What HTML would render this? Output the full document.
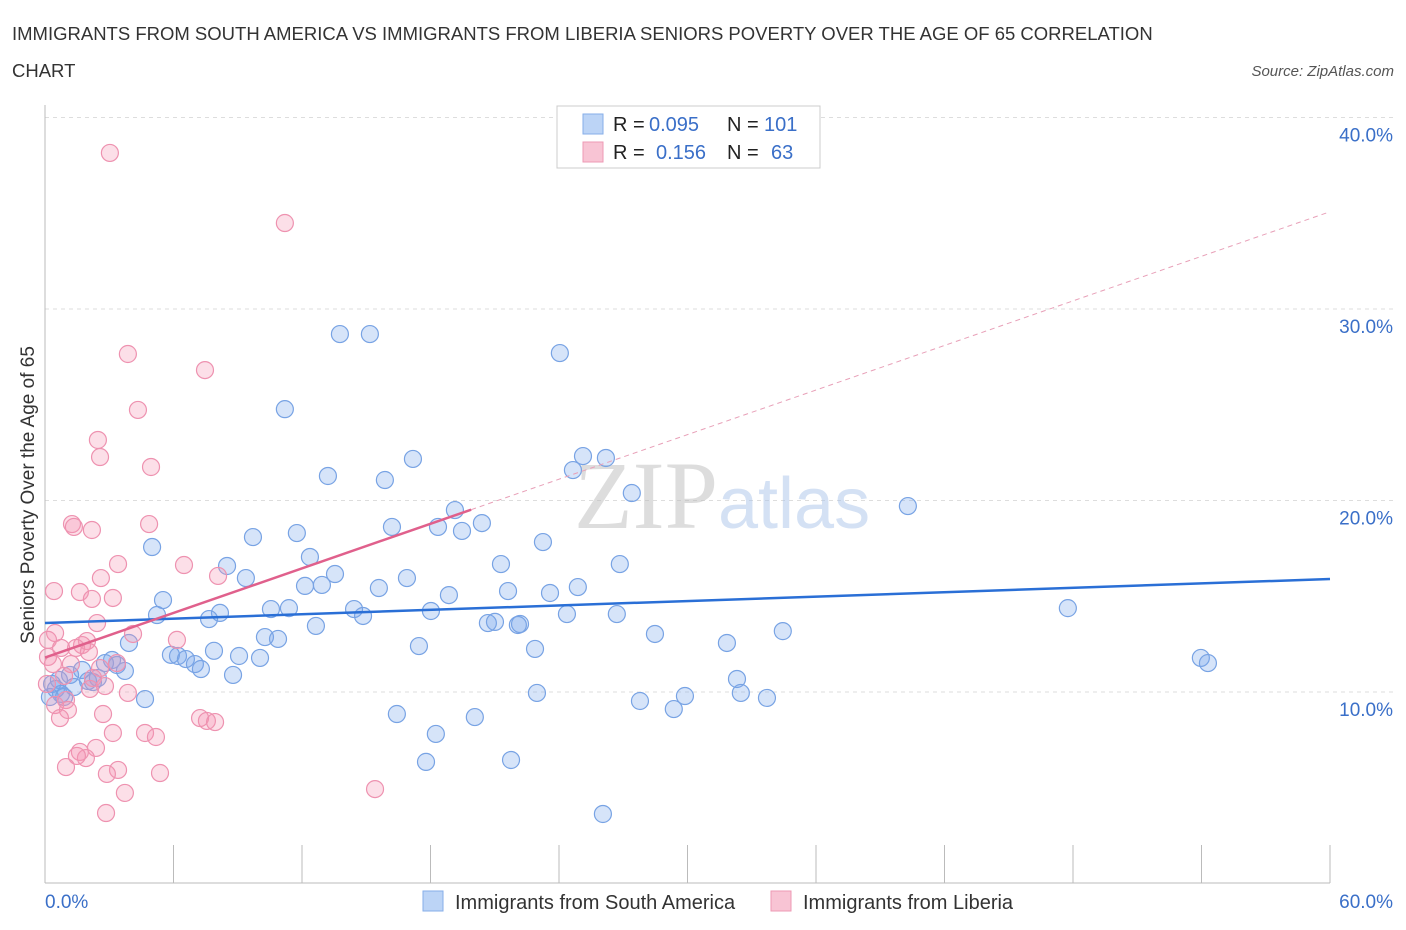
<!DOCTYPE html>
<html><head><meta charset="utf-8"><style>
body{margin:0;background:#fff;font-family:"Liberation Sans",sans-serif;}
svg{display:block}
</style></head><body>
<svg id="chart" width="1406" height="930">
<text x="12" y="40" font-size="18.5" fill="#333">IMMIGRANTS FROM SOUTH AMERICA VS IMMIGRANTS FROM LIBERIA SENIORS POVERTY OVER THE AGE OF 65 CORRELATION</text>
<text x="12" y="77" font-size="18.5" fill="#333">CHART</text>
<text x="1394" y="76" font-size="15" fill="#555" font-style="italic" text-anchor="end">Source: ZipAtlas.com</text>
<text transform="translate(34,495) rotate(-90)" font-size="19" fill="#333" text-anchor="middle">Seniors Poverty Over the Age of 65</text>
<g id="grid"></g>
<text x="718" y="528" font-size="96" fill="#bbb" fill-opacity="0.5" text-anchor="end" font-family="Liberation Serif,serif">ZIP</text>
<text x="718" y="528" font-size="72" fill="#a9c4ea" fill-opacity="0.5">atlas</text>
<g id="marks"></g>
<g>
<rect x="557" y="106" width="263" height="62" fill="#fff" stroke="#ccc"/>
<rect x="583" y="114" width="20" height="20" fill="#bcd4f6" stroke="#86aee8"/>
<rect x="583" y="142" width="20" height="20" fill="#f8c4d4" stroke="#ee9ab4"/>
<text x="613" y="131" font-size="20" fill="#222">R =</text>
<text x="649" y="131" font-size="20" fill="#3a6fc8">0.095</text>
<text x="727" y="131" font-size="20" fill="#222">N =</text>
<text x="764" y="131" font-size="20" fill="#3a6fc8">101</text>
<text x="613" y="159" font-size="20" fill="#222">R =</text>
<text x="656" y="159" font-size="20" fill="#3a6fc8">0.156</text>
<text x="727" y="159" font-size="20" fill="#222">N =</text>
<text x="771" y="159" font-size="20" fill="#3a6fc8">63</text>
</g>
<g>
<rect x="423" y="891" width="20" height="20" fill="#bcd4f6" stroke="#86aee8"/>
<text x="455" y="909" font-size="20" fill="#333">Immigrants from South America</text>
<rect x="771" y="891" width="20" height="20" fill="#f8c4d4" stroke="#ee9ab4"/>
<text x="803" y="909" font-size="20" fill="#333">Immigrants from Liberia</text>
</g>
</svg>
<script>
const yTicks=[10,20,30,40];
const xTickLabels=["0.0%","60.0%"];
const blueX=[13.77,15.17,24.04,11.20,25.12,26.19,24.65,17.18,13.21,15.87,27.40,40.29,19.14,20.40,16.20,18.35,19.47,11.76,9.71,23.25,5.00,12.37,21.29,26.84,8.50,13.54,9.38,16.90,12.14,12.93,15.59,24.88,21.62,23.58,18.86,5.51,47.76,10.55,11.39,14.43,14.85,18.02,5.23,8.17,7.66,24.37,26.70,12.65,20.68,21.01,22.18,22.08,34.45,28.48,10.27,10.88,3.92,17.46,31.84,22.88,7.89,5.88,6.21,6.58,7.00,9.06,10.04,7.28,3.13,2.80,53.97,54.30,3.73,8.78,1.73,1.17,0.65,2.24,2.01,0.33,0.51,0.75,1.35,0.23,0.89,32.31,4.67,22.97,32.49,29.88,27.78,33.71,29.36,20.07,16.43,18.25,17.79,21.76,26.05,3.36,2.47];
const blueY=[28.69,28.69,27.70,24.77,22.32,22.22,21.59,22.17,21.28,21.07,20.39,19.71,19.50,18.82,18.62,18.62,18.41,18.30,18.09,17.83,17.57,17.05,16.68,16.68,16.58,16.16,15.95,15.95,15.54,15.59,15.43,15.48,15.27,15.17,15.06,14.80,14.38,14.33,14.38,14.33,13.97,14.23,14.02,14.13,13.81,14.07,14.07,13.45,13.60,13.66,13.55,13.50,13.18,13.03,12.87,12.77,12.56,12.40,12.56,12.25,12.15,11.94,11.88,11.72,11.46,11.88,11.78,11.20,11.67,11.51,11.78,11.51,11.10,10.89,11.15,10.89,10.63,10.52,10.57,10.42,10.16,9.90,10.26,9.74,9.74,10.68,9.63,9.95,9.95,9.79,9.53,9.69,9.11,8.69,8.85,7.81,6.35,6.45,3.63,11.41,10.73];
const pinkX=[3.03,11.20,3.87,7.47,4.34,2.47,2.57,4.95,1.26,1.35,4.86,2.19,6.49,3.41,8.08,2.61,0.42,1.63,2.19,3.17,2.43,4.11,6.16,0.47,0.14,1.96,1.73,1.45,2.05,0.75,0.14,0.37,3.36,1.21,2.57,0.89,2.24,0.09,2.80,3.87,2.10,0.98,0.47,1.07,2.71,0.70,7.24,7.56,7.94,3.17,4.67,5.18,2.38,1.63,1.91,1.49,0.98,3.41,2.89,5.37,3.73,15.41,2.85];
const pinkY=[38.15,34.49,27.65,26.81,24.73,23.16,22.27,21.75,18.77,18.62,18.77,18.46,16.63,16.68,16.06,15.95,15.27,15.22,14.86,14.91,13.60,13.03,12.72,13.08,12.72,12.66,12.45,12.30,12.09,12.30,11.83,11.46,11.51,11.46,11.25,10.84,10.73,10.42,10.31,9.95,10.16,9.58,9.32,9.06,8.85,8.64,8.64,8.49,8.43,7.86,7.86,7.65,7.08,6.87,6.55,6.66,6.08,5.93,5.72,5.77,4.73,4.93,3.68];
const blueTrend=[13.6,15.9];
const pinkTrend=[11.8,0.388];
const X0=45,X1=1330,Y0=883.5;
const sx=v=>X0+v*(X1-X0)/60;
const sy=v=>Y0-v*19.15;
const NS="http://www.w3.org/2000/svg";
function mk(t,a,p){const e=document.createElementNS(NS,t);for(const k in a)e.setAttribute(k,a[k]);p.appendChild(e);return e;}
const grid=document.getElementById('grid'),marks=document.getElementById('marks');
yTicks.forEach(t=>{
 const l=mk('line',{x1:45,x2:1395,y1:sy(t),y2:sy(t),stroke:'#ddd','stroke-dasharray':'4,4'},grid);
 
 
 const tx=mk('text',{x:1393,y:sy(t)+24,'font-size':19,fill:'#3a6fc8','text-anchor':'end'},grid);
 tx.textContent=t.toFixed(1)+'%';
 
 
});
const ax=mk('line',{x1:45,x2:45,y1:105,y2:883,stroke:'#bbb'},grid);


const bx=mk('line',{x1:45,x2:1330,y1:883,y2:883,stroke:'#bbb'},grid);


for(let i=0;i<=10;i++){
 const t=mk('line',{x1:sx(i*6),x2:sx(i*6),y1:845,y2:883,stroke:'#bbb'},grid);
 
 
}
[[0,'start',45],[60,'end',1393]].forEach((d,i)=>{
 const t=mk('text',{x:d[2],y:908,'font-size':19,fill:'#3a6fc8','text-anchor':d[1]},grid);
 t.textContent=xTickLabels[i];
 
 
});
blueX.forEach((v,i)=>{
 const c=mk('circle',{cx:sx(v),cy:sy(blueY[i]),r:8.5,fill:'rgba(120,165,235,0.3)',stroke:'#78a3e4','stroke-width':1.2},marks);
 
 
});
pinkX.forEach((v,i)=>{
 const c=mk('circle',{cx:sx(v),cy:sy(pinkY[i]),r:8.5,fill:'rgba(245,150,180,0.3)',stroke:'#ee92b0','stroke-width':1.2},marks);
 
 
});
const bl=mk('line',{x1:sx(0),y1:sy(blueTrend[0]),x2:sx(60),y2:sy(blueTrend[1]),stroke:'#2a6fd6','stroke-width':2.5},marks);


const pd=mk('line',{x1:sx(19.9),y1:sy(pinkTrend[0]+pinkTrend[1]*19.9),x2:sx(60),y2:sy(pinkTrend[0]+pinkTrend[1]*60),stroke:'#e8a0b8','stroke-width':1,'stroke-dasharray':'5,4'},marks);


const pl=mk('line',{x1:sx(0),y1:sy(pinkTrend[0]),x2:sx(19.9),y2:sy(pinkTrend[0]+pinkTrend[1]*19.9),stroke:'#e0608c','stroke-width':2.5},marks);


</script>
</body></html>
